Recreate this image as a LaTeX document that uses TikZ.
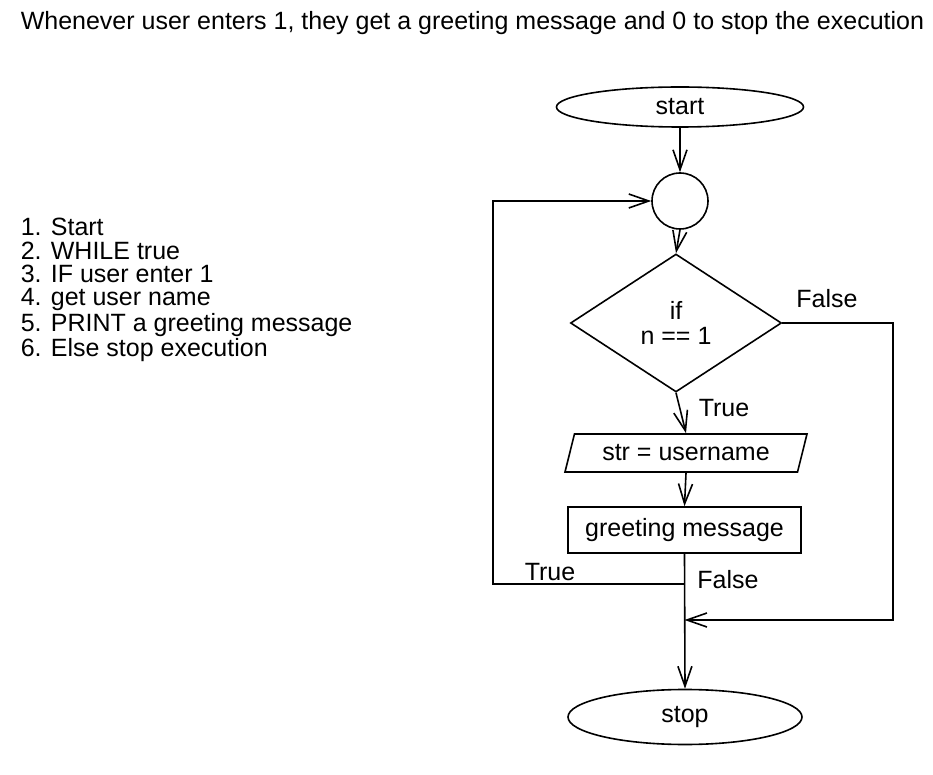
\documentclass[tikz,border=0pt]{standalone}
\usepackage{fontspec}
\setmainfont{Liberation Sans}
\usetikzlibrary{shapes.geometric, arrows.meta}

\begin{document}
\begin{tikzpicture}[x=0.5pt, y=-0.5pt, >={Straight Barb[length=10pt, width=7pt]}, line width=0.8pt,
    every node/.style={font=\fontsize{12.5}{12.5}\selectfont, inner sep=0pt},
    terminal/.style={draw, ellipse, minimum width=#1, minimum height=20pt},
    decision/.style={draw, diamond, minimum width=105.5pt, minimum height=69pt, align=center},
    io/.style={draw, trapezium, trapezium left angle=60, trapezium right angle=120, trapezium stretches body, minimum width=121pt, minimum height=19pt},
    process/.style={draw, rectangle, minimum width=116.5pt, minimum height=23pt}]
            \useasboundingbox (0,0) rectangle (933,775);

            % Texto
            \node[anchor=west] (title) at (20,23) {Whenever user enters 1, they get a greeting message and 0 to stop the execution};
            \node[anchor=west, align=left, font=\fontsize{12.5}{11.65}\selectfont] (steps) at (20,290)
                {1. Start\\2. WHILE true\\3. IF user enter 1\\4. get user name\\5. PRINT a greeting message\\6. Else stop execution};

            % Nodos
            \node[terminal=123.5pt] (start) at (680,107) {start};
            \node[draw, circle, minimum size=28pt] (loop) at (680,201) {};
            \node[decision] (cond) at (676,323) {if\\n == 1};
            \node[io] (input) at (686,453) {str = username};
            \node[process] (greet) at (684.5,530) {greeting message};
            \node[terminal=117pt, minimum height=27.5pt] (stop) at (685,717) {stop};

            \coordinate (split) at (684.5,584);
            \coordinate (merge) at (684.5,620);
            \coordinate (back) at (493,584);
            \coordinate (right) at (893,620);

            % Conectores
            \draw[->] (start) -- (loop);
            \draw[->] (loop.south) -- (cond.north);
            \draw[->] (cond.south) -- (input.north);
            \draw[->] (input.south) -- (greet.north);
            \draw[->] (greet.south) -- (stop.north);
            \draw[->] (split) -- (back) |- (loop);
            \draw[->] (cond.east) -| (right) -- (merge);

            % Etiquetas
            \node (lfalse1) at (827,299) {False};
            \node (ltrue1) at (724,408) {True};
            \node (ltrue2) at (550,572) {True};
            \node (lfalse2) at (728,580) {False};
        \end{tikzpicture}
\end{document}
